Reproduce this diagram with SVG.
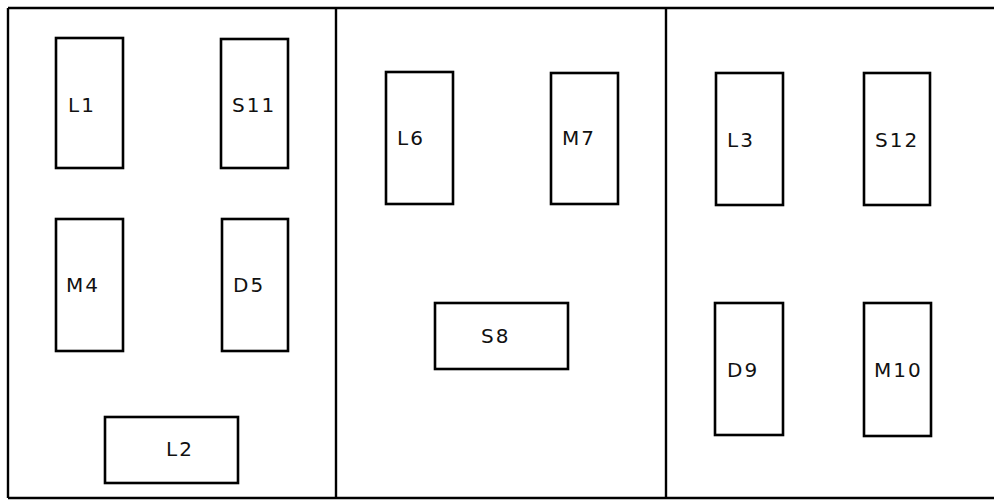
<svg xmlns="http://www.w3.org/2000/svg" width="994" height="502" viewBox="0 0 994 502">
<style>
.b{fill:none;stroke:#000;stroke-width:2.6}
.w{stroke:#000;stroke-width:2.4;fill:none}
text{font-family:"DejaVu Sans","Liberation Sans",sans-serif;font-size:20px;fill:#111;letter-spacing:2px}
</style>
<rect width="994" height="502" fill="#fff"/>
<g id="frame">
<path class="w" d="M8,8 H994 M8,498 H994 M8,8 V498 M336,8 V498 M666,8 V498"/>
</g>
<g id="L1"><rect class="b" x="56" y="38" width="67" height="130"/><text x="68" y="112">L1</text></g>
<g id="S11"><rect class="b" x="221" y="39" width="67" height="129"/><text x="232" y="112">S11</text></g>
<g id="M4"><rect class="b" x="56" y="219" width="67" height="132"/><text x="66" y="292">M4</text></g>
<g id="D5"><rect class="b" x="222" y="219" width="66" height="132"/><text x="233" y="292">D5</text></g>
<g id="L2"><rect class="b" x="105" y="417" width="133" height="66"/><text x="166" y="456">L2</text></g>
<g id="L6"><rect class="b" x="386" y="72" width="67" height="132"/><text x="397" y="145">L6</text></g>
<g id="M7"><rect class="b" x="551" y="73" width="67" height="131"/><text x="562" y="145">M7</text></g>
<g id="S8"><rect class="b" x="435" y="303" width="133" height="66"/><text x="481" y="343">S8</text></g>
<g id="L3"><rect class="b" x="716" y="73" width="67" height="132"/><text x="727" y="147">L3</text></g>
<g id="S12"><rect class="b" x="864" y="73" width="66" height="132"/><text x="875" y="147">S12</text></g>
<g id="D9"><rect class="b" x="715" y="303" width="68" height="132"/><text x="727" y="377">D9</text></g>
<g id="M10"><rect class="b" x="864" y="303" width="67" height="133"/><text x="874" y="377">M10</text></g>
</svg>
